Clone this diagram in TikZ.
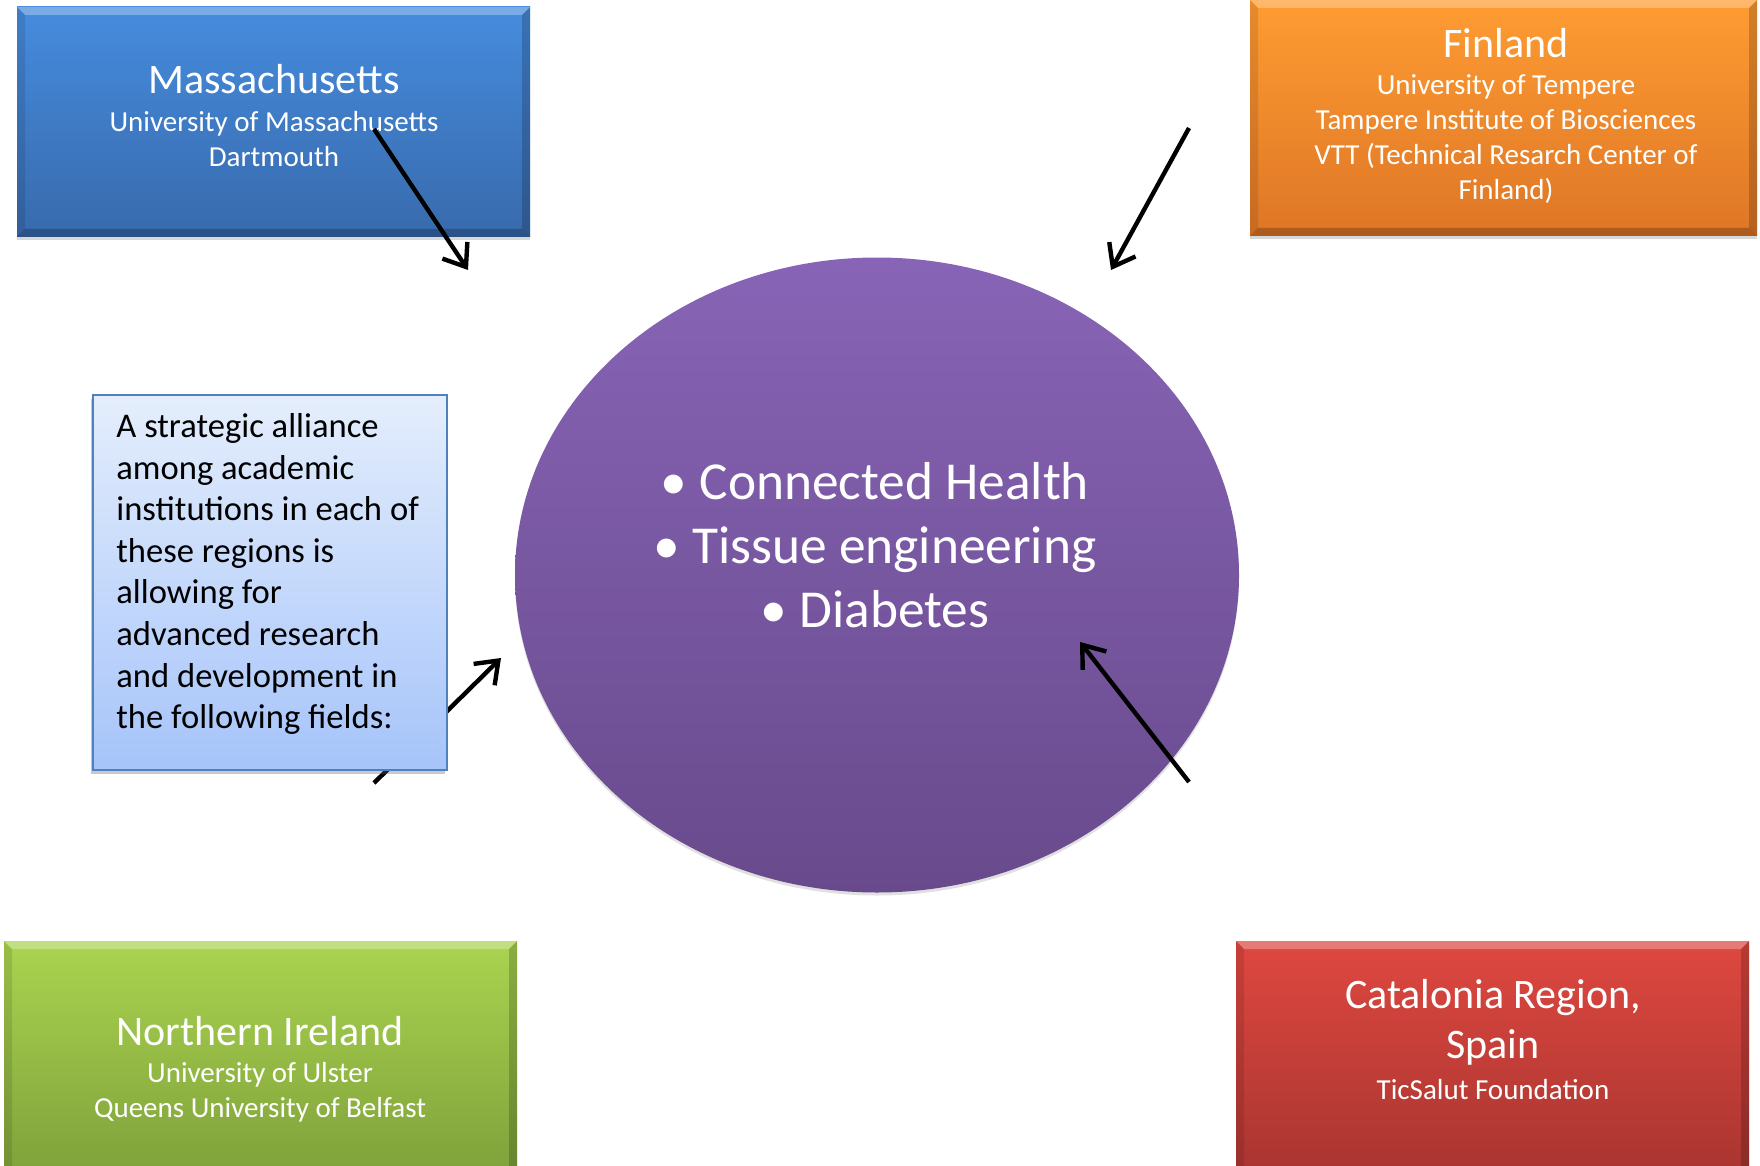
\documentclass[tikz,border=0pt]{standalone}
\usepackage{fontspec}
\setmainfont{Carlito}
\usetikzlibrary{arrows.meta,shadows,shapes.geometric}
\definecolor{blueT}{RGB}{70,140,222}
\definecolor{blueB}{RGB}{56,106,172}
\definecolor{orangeT}{RGB}{255,156,50}
\definecolor{orangeB}{RGB}{222,118,38}
\definecolor{greenT}{RGB}{170,212,80}
\definecolor{greenB}{RGB}{126,160,58}
\definecolor{redT}{RGB}{222,72,64}
\definecolor{redB}{RGB}{168,52,48}
\definecolor{purpT}{RGB}{136,100,182}
\definecolor{purpB}{RGB}{104,74,140}
\definecolor{paleT}{RGB}{228,238,252}
\definecolor{paleB}{RGB}{166,196,250}
\definecolor{paleBorder}{RGB}{79,129,189}
\tikzset{
  x=0.5pt, y=-0.5pt,
  region/.style={rectangle, inner sep=0pt, draw=none,
    drop shadow={shadow xshift=0pt, shadow yshift=-1.5pt, opacity=0.25, fill=black!60},
    path picture={
      \fill[white,opacity=0.28] (path picture bounding box.north west) -- (path picture bounding box.north east)
        -- ([xshift=-4pt,yshift=-4pt]path picture bounding box.north east) -- ([xshift=4pt,yshift=-4pt]path picture bounding box.north west) -- cycle;
      \fill[black,opacity=0.18] (path picture bounding box.north east) -- (path picture bounding box.south east)
        -- ([xshift=-4pt,yshift=4pt]path picture bounding box.south east) -- ([xshift=-4pt,yshift=-4pt]path picture bounding box.north east) -- cycle;
      \fill[black,opacity=0.10] (path picture bounding box.north west) -- (path picture bounding box.south west)
        -- ([xshift=4pt,yshift=4pt]path picture bounding box.south west) -- ([xshift=4pt,yshift=-4pt]path picture bounding box.north west) -- cycle;
      \fill[black,opacity=0.22] (path picture bounding box.south west) -- (path picture bounding box.south east)
        -- ([xshift=-4pt,yshift=4pt]path picture bounding box.south east) -- ([xshift=4pt,yshift=4pt]path picture bounding box.south west) -- cycle;
    }},
  title/.style={text=white, font=\fontsize{21}{25}\selectfont, align=center, inner sep=0pt},
  sub/.style={text=white, font=\fontsize{14.5}{17.5}\selectfont, align=center, inner sep=0pt},
  link/.style={line width=2.2pt, -{Straight Barb[length=10pt,width=15pt,line width=2.2pt]}},
}
\begin{document}
\begin{tikzpicture}
\useasboundingbox (0,0) rectangle (1760,1166);
\fill[white] (0,0) rectangle (1760,1166);

% region boxes
\node[region, shading=axis, top color=blueT, bottom color=blueB,
  minimum width=256.5pt, minimum height=115pt] (mass) at (273.5,122) {};
\node[region, shading=axis, top color=orangeT, bottom color=orangeB,
  minimum width=253.5pt, minimum height=118pt] (fin) at (1503.5,118) {};
\node[region, shading=axis, top color=greenT, bottom color=greenB,
  minimum width=256.5pt, minimum height=119.5pt] (ni) at (260.5,1060.5) {};
\node[region, shading=axis, top color=redT, bottom color=redB,
  minimum width=256.5pt, minimum height=119.5pt] (cat) at (1492.5,1060.5) {};

% central ellipse
\node[ellipse, inner sep=0pt, shading=axis, top color=purpT, bottom color=purpB,
  minimum width=362pt, minimum height=317.5pt,
  drop shadow={shadow xshift=0pt, shadow yshift=-1.5pt, opacity=0.2, fill=black!60}] (core) at (877,575) {};

% arrow hidden under the description box
\coordinate (s3) at (374,783);
\coordinate (e3) at (501,658);
\draw[link] (s3) -- (e3);

% description box
\node[rectangle, inner sep=0pt, shading=axis, top color=paleT, bottom color=paleB,
  draw=paleBorder, line width=1pt, minimum width=177pt, minimum height=187.5pt,
  drop shadow={shadow xshift=-1.2pt, shadow yshift=-1.8pt, opacity=0.35, fill=black!60}] (desc) at (270,582.5) {};
\node[anchor=west, align=left, inner sep=0pt, text=black,
  font=\fontsize{17.3}{20.8}\selectfont] (desctext) at (116,574) {A strategic alliance\\among academic\\institutions in each of\\these regions is\\allowing for\\advanced research\\and development in\\the following fields:};

% texts
\node[title] (massT) at (274,79) {Massachusetts};
\node[sub] (massS) at (274,139) {University of Massachusetts\\Dartmouth};
\node[title] (finT) at (1506,43) {Finland};
\node[sub] (finS) at (1506,139.5) {University of Tempere\\Tampere Institute of Biosciences\\VTT (Technical Resarch Center of\\Finland)};
\node[title] (niT) at (260,1031) {Northern Ireland};
\node[sub] (niS) at (260,1092) {University of Ulster\\Queens University of Belfast};
\node[title] (catT) at (1493,1022) {Catalonia Region,\\Spain};
\node[sub] (catS) at (1493,1090) {TicSalut Foundation};
\node[text=white, align=center, inner sep=0pt, font=\fontsize{26.7}{32}\selectfont] (fields) at (875,545)
  {• Connected Health\\• Tissue engineering\\• Diabetes};

% arrows
\coordinate (s1) at (374,129);
\coordinate (e1) at (468,270);
\coordinate (s2) at (1189,128);
\coordinate (e2) at (1111,270);
\coordinate (s4) at (1189,782);
\coordinate (e4) at (1080,642);
\draw[link] (s1) -- (e1);
\draw[link] (s2) -- (e2);
\draw[link] (s4) -- (e4);
\end{tikzpicture}
\end{document}
